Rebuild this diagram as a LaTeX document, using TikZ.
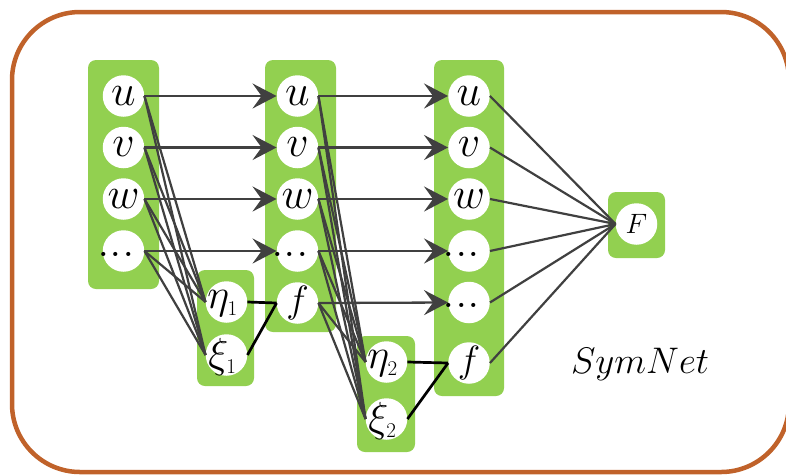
\RequirePackage{fix-cm}
\documentclass[tikz,border=0pt]{standalone}
\usetikzlibrary{arrows.meta}
\definecolor{gr}{RGB}{146,208,80}
\definecolor{ln}{RGB}{64,64,64}
\definecolor{fr}{RGB}{192,98,42}
\tikzset{
  nd/.style={circle, fill=white, minimum size=41.5pt, inner sep=0pt},
  lb/.style={inner sep=0pt, font=\fontsize{44}{50}\selectfont},
  lbf/.style={inner sep=0pt, font=\fontsize{38}{44}\selectfont},
  lbF/.style={inner sep=0pt, font=\fontsize{28}{34}\selectfont},
  lbd/.style={inner sep=0pt, font=\fontsize{50}{54}\selectfont, xshift=-7.5pt, yshift=-3pt},
  lbe/.style={inner sep=0pt, font=\fontsize{42}{48}\selectfont, xshift=-4pt, yshift=-2pt},
  gbox/.style={fill=gr, rounded corners=8pt},
  arr/.style={draw=ln, line width=2.3pt, -{Stealth[length=24pt,width=25pt,inset=9pt]}},
  cn/.style={draw=ln, line width=2.2pt},
  bk/.style={draw=black, line width=2.7pt},
}
\newcommand\sub[1]{{\mbox{\fontsize{21}{24}\selectfont #1}}}
\begin{document}
\begin{tikzpicture}[x=1pt,y=-1pt]
\useasboundingbox (0,0) rectangle (786,475);
\draw[fr, line width=4.5pt, rounded corners=68pt] (12,12) rectangle (789,472);
% green boxes
\fill[gbox] (88,60) rectangle (159,289);
\fill[gbox] (197,270) rectangle (254,386);
\fill[gbox] (265,60) rectangle (336,332);
\fill[gbox] (357,336) rectangle (415,452);
\fill[gbox] (434,60) rectangle (504,396);
\fill[gbox] (608,192) rectangle (665,258);
% column 1
\node[nd, label={[lb]center:$u$}] (a1) at (123.5,96) {};
\node[nd, label={[lb]center:$v$}] (a2) at (123.5,147.5) {};
\node[nd, label={[lb]center:$w$}] (a3) at (123.5,199) {};
\node[nd, label={[lbd]center:...}] (a4) at (123.5,251) {};
% eta1 xi1
\node[nd, label={[lbe]center:$\eta_{\sub{1}}$}] (e1) at (226.5,302) {};
\node[nd, label={[lbe]center:$\xi_{\sub{1}}$}] (x1) at (226.5,355) {};
% column 2
\node[nd, label={[lb]center:$u$}] (b1) at (297.5,96) {};
\node[nd, label={[lb]center:$v$}] (b2) at (297.5,147.5) {};
\node[nd, label={[lb]center:$w$}] (b3) at (297.5,199) {};
\node[nd, label={[lbd]center:...}] (b4) at (297.5,251) {};
\node[nd, label={[lbf]center:$f$}] (bf) at (297.5,303) {};
% eta2 xi2
\node[nd, label={[lbe]center:$\eta_{\sub{2}}$}] (e2) at (386.5,362) {};
\node[nd, label={[lbe]center:$\xi_{\sub{2}}$}] (x2) at (386.5,419) {};
% column 3
\node[nd, label={[lb]center:$u$}] (c1) at (469,96) {};
\node[nd, label={[lb]center:$v$}] (c2) at (469,147.5) {};
\node[nd, label={[lb]center:$w$}] (c3) at (469,199) {};
\node[nd, label={[lbd]center:...}] (c4) at (469,251) {};
\node[nd, label={[lbd]center:...}] (c5) at (469,302.5) {};
\node[nd, label={[lbf]center:$f$}] (cf) at (469,363) {};
% F
\node[nd, label={[lbF]center:$F$}] (F) at (636.5,224) {};
% connectors col1 -> col2
\foreach \s/\t in {a1/b1,a2/b2,a3/b3,a4/b4}
  \draw[arr] (\s.east) -- (\t.west);
\foreach \s in {a1,a2,a3,a4}{
  \draw[cn] (\s.east) -- (e1.west);
  \draw[cn] (\s.east) -- (x1.west);
}
\draw[bk] (e1.east) -- (bf.west);
\draw[bk] (x1.east) -- (bf.west);
% col2 -> col3
\foreach \s/\t in {b1/c1,b2/c2,b3/c3,b4/c4,bf/c5}
  \draw[arr] (\s.east) -- (\t.west);
\foreach \s in {b1,b2,b3,b4,bf}{
  \draw[cn] (\s.east) -- (e2.west);
  \draw[cn] (\s.east) -- (x2.west);
}
\draw[bk] (e2.east) -- (cf.west);
\draw[bk] (x2.east) -- (cf.west);
% col3 -> F
\foreach \s in {c1,c2,c3,c4,c5,cf}
  \draw[cn] (\s.east) -- (F.west);
% title
\node[inner sep=0pt, anchor=base, font=\fontsize{37}{44}\selectfont] (title) at (640,373) {$SymNet$};
\end{tikzpicture}
\end{document}
